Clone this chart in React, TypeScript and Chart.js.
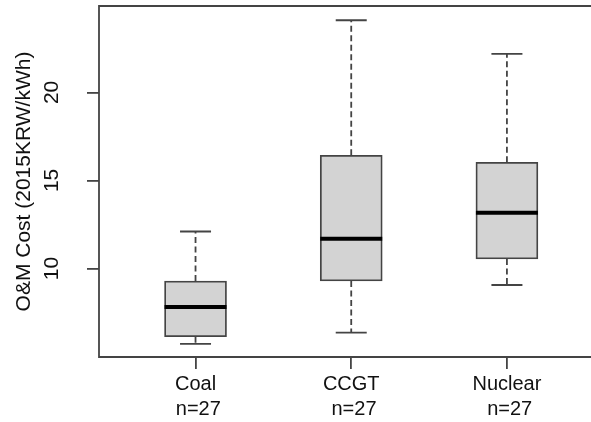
import React, { useEffect, useRef } from 'react';
import { Chart, registerables } from 'chart.js';

Chart.register(...registerables);

// ---- data ----
const categories = ['Coal', 'CCGT', 'Nuclear'];
const counts = [27, 27, 27];
const positions = [1, 2, 3];
const lowerWhisker = [5.71, 6.35, 9.06];
const q1 = [6.12, 9.29, 10.54];
const median = [7.81, 11.69, 13.17];
const q3 = [9.29, 16.43, 16.03];
const upperWhisker = [12.1, 24.1, 22.19];
const yTicks = [10, 15, 20];
const yTitle = 'O&M Cost (2015KRW/kWh)';

const FONT = "'Liberation Sans', Arial, sans-serif";
const LINE = '#444444';
const TEXT = '#111111';

const boxPartsPlugin = {
  id: 'boxParts',
  afterDatasetsDraw(chart: any) {
    const { ctx, scales } = chart;
    const x = scales.x;
    const y = scales.y;
    const meta = chart.getDatasetMeta(0);
    ctx.save();
    positions.forEach((p, i) => {
      const cx = x.getPixelForValue(p);
      const w = meta.data[i].width;
      const cap = w / 4;
      const yUp = y.getPixelForValue(upperWhisker[i]);
      const yLo = y.getPixelForValue(lowerWhisker[i]);
      const yQ1 = y.getPixelForValue(q1[i]);
      const yQ3 = y.getPixelForValue(q3[i]);
      const yMed = y.getPixelForValue(median[i]);
      // dashed whiskers
      ctx.strokeStyle = LINE;
      ctx.lineWidth = 1.8;
      ctx.setLineDash([6, 3.5]);
      ctx.beginPath();
      ctx.moveTo(cx, yQ3);
      ctx.lineTo(cx, yUp);
      ctx.moveTo(cx, yQ1);
      ctx.lineTo(cx, yLo);
      ctx.stroke();
      // caps
      ctx.setLineDash([]);
      ctx.beginPath();
      ctx.moveTo(cx - cap, yUp);
      ctx.lineTo(cx + cap, yUp);
      ctx.moveTo(cx - cap, yLo);
      ctx.lineTo(cx + cap, yLo);
      ctx.stroke();
      // median
      ctx.strokeStyle = '#000000';
      ctx.lineWidth = 4;
      ctx.beginPath();
      ctx.moveTo(cx - w / 2, yMed);
      ctx.lineTo(cx + w / 2, yMed);
      ctx.stroke();
    });
    ctx.restore();
  },
  afterDraw(chart: any) {
    const { ctx, chartArea: a, scales } = chart;
    const y = scales.y;
    ctx.save();
    // frame (right side falls outside the picture)
    ctx.strokeStyle = LINE;
    ctx.lineWidth = 1.8;
    ctx.beginPath();
    ctx.moveTo(a.right + 2, a.top);
    ctx.lineTo(a.left, a.top);
    ctx.lineTo(a.left, a.bottom);
    ctx.lineTo(a.right + 2, a.bottom);
    ctx.stroke();
    // rotated y tick labels
    ctx.fillStyle = TEXT;
    ctx.font = `21px ${FONT}`;
    ctx.textAlign = 'center';
    ctx.textBaseline = 'middle';
    y.ticks.forEach((t: any) => {
      const py = y.getPixelForValue(t.value);
      ctx.save();
      ctx.translate(52.5, py);
      ctx.rotate(-Math.PI / 2);
      ctx.fillText(String(t.value), 0, 0);
      ctx.restore();
    });
    ctx.restore();
  },
};

export default function App() {
  const ref = useRef<HTMLCanvasElement | null>(null);

  useEffect(() => {
    if (!ref.current) return;
    const chart = new Chart(ref.current, {
      type: 'bar',
      data: {
        datasets: [
          {
            data: positions.map((p, i) => ({ x: p, y: [q1[i], q3[i]] })) as any,
            backgroundColor: '#d3d3d3',
            borderColor: LINE,
            borderWidth: 1.8,
            borderSkipped: false,
            barThickness: 62,
          },
        ],
      },
      options: {
        responsive: false,
        animation: false,
        devicePixelRatio: 1,
        layout: { padding: { top: 6, left: 0, right: 0, bottom: 0 } },
        plugins: {
          legend: { display: false },
          tooltip: { enabled: false },
        },
        scales: {
          x: {
            type: 'linear',
            min: 0.38,
            max: 3.54,
            offset: false,
            afterBuildTicks: (s: any) => {
              s.ticks = positions.map((v) => ({ value: v }));
            },
            afterFit: (s: any) => {
              s.height = 65;
            },
            grid: {
              offset: false,
              drawOnChartArea: false,
              drawTicks: true,
              tickLength: 12,
              color: LINE,
              lineWidth: 1.8,
            },
            border: { display: false },
            ticks: {
              autoSkip: false,
              maxRotation: 0,
              minRotation: 0,
              padding: 3,
              color: TEXT,
              font: { family: FONT, size: 20, lineHeight: 1.25 },
              callback: (v: any) => {
                const i = positions.indexOf(Number(v));
                return i >= 0 ? [categories[i], ' n=' + counts[i]] : '';
              },
            },
          },
          y: {
            type: 'linear',
            min: 4.97,
            max: 24.91,
            afterBuildTicks: (s: any) => {
              s.ticks = yTicks.map((v) => ({ value: v }));
            },
            afterFit: (s: any) => {
              s.width = 99;
            },
            grid: {
              drawOnChartArea: false,
              drawTicks: true,
              tickLength: 12,
              color: LINE,
              lineWidth: 1.8,
            },
            border: { display: false },
            ticks: { display: false },
            title: {
              display: true,
              text: yTitle,
              color: TEXT,
              font: { family: FONT, size: 21, lineHeight: 1.2 },
              padding: { top: 12, bottom: 0 },
            },
          },
        },
      } as any,
      plugins: [boxPartsPlugin],
    });
    return () => chart.destroy();
  }, []);

  return (
    <div
      style={{
        position: 'fixed',
        left: 0,
        top: 0,
        width: 591,
        height: 422,
        overflow: 'hidden',
        background: '#ffffff',
      }}
    >
      <canvas ref={ref} width={591} height={422} style={{ display: 'block', width: 591, height: 422 }} />
    </div>
  );
}
